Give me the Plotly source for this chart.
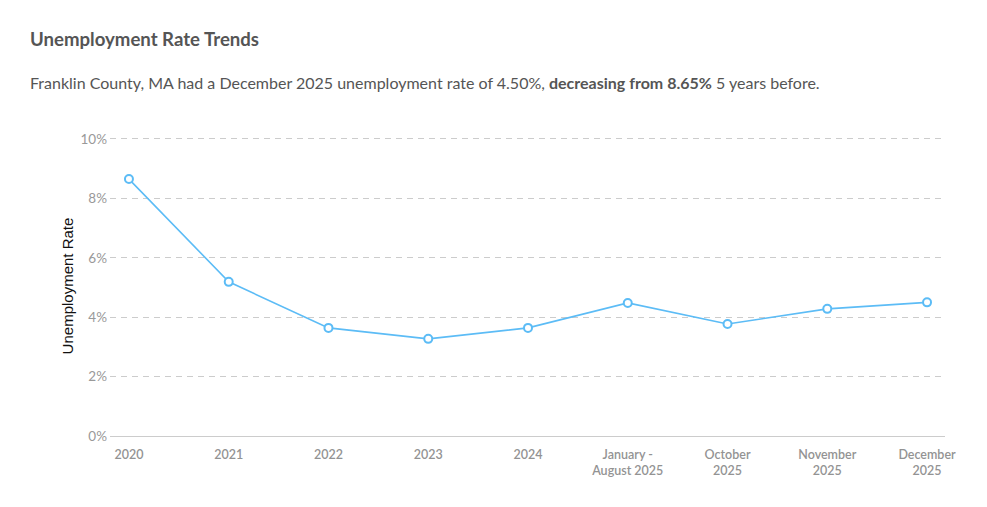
import plotly.graph_objects as go

categories = ["2020", "2021", "2022", "2023", "2024", "January -<br>August 2025",
              "October<br>2025", "November<br>2025", "December<br>2025"]
rates = [8.65, 5.19, 3.64, 3.27, 3.64, 4.48, 3.77, 4.28, 4.50]
y_ticks = [0, 2, 4, 6, 8, 10]
y_tick_labels = ["0%", "2%", "4%", "6%", "8%", "10%"]

W, H = 987, 507
L, R, T, B = 110, 42, 136, 71

fig = go.Figure()
fig.add_trace(go.Scatter(
    x=list(range(len(categories))), y=rates, mode="lines+markers",
    line=dict(color="#5cbcf6", width=1.6),
    marker=dict(size=8, color="white", line=dict(color="#5cbcf6", width=2)),
    hoverinfo="skip", showlegend=False, cliponaxis=False,
))

fig.update_layout(
    width=W, height=H,
    margin=dict(l=L, r=R, t=T, b=B),
    paper_bgcolor="white", plot_bgcolor="white",
    font=dict(family="Lato", color="#555"),
    xaxis=dict(
        range=[-0.19, 8.18], tickmode="array",
        tickvals=list(range(len(categories))), ticktext=categories,
        showgrid=False, zeroline=False, showline=True, linecolor="#cccccc",
        ticks="outside", ticklen=7, tickcolor="rgba(0,0,0,0)",
        tickfont=dict(family="Lato", size=12.5, color="#939393", weight=600),
        fixedrange=True,
    ),
    yaxis=dict(
        range=[0, 10.1], tickmode="array", tickvals=y_ticks, ticktext=y_tick_labels,
        showgrid=True, gridcolor="#cccccc", griddash="6px,5px", gridwidth=1,
        zeroline=True, zerolinecolor="#cccccc", zerolinewidth=1,
        showline=False, ticks="", ticklabelstandoff=2,
        tickfont=dict(family="Lato", size=13.5, color="#999999"),
        title=dict(text="Unemployment Rate",
                   font=dict(family="Liberation Sans, Arial", size=15, color="#111"),
                   standoff=3),
        fixedrange=True,
    ),
    annotations=[
        dict(text="Unemployment Rate Trends", xref="paper", yref="paper",
             x=(28 - L) / (W - L - R), y=1 + (T - 39) / (H - T - B),
             xanchor="left", yanchor="middle", showarrow=False,
             font=dict(family="Lato", size=18.6, color="#555", weight="bold")),
        dict(text="Franklin County, MA had a December 2025 unemployment rate of 4.50%, "
                  "<b>decreasing from 8.65%</b> 5 years before.",
             xref="paper", yref="paper",
             x=(28 - L) / (W - L - R), y=1 + (T - 83) / (H - T - B),
             xanchor="left", yanchor="middle", showarrow=False,
             font=dict(family="Lato", size=16, color="#555")),
    ],
)

fig.write_html("out.html", config={"displayModeBar": False})

with open("out.html", "r", encoding="utf-8") as f:
    html = f.read()
html = html.replace("<head>", "<head><style>html,body{margin:0;padding:0;}</style>", 1)
with open("out.html", "w", encoding="utf-8") as f:
    f.write(html)
